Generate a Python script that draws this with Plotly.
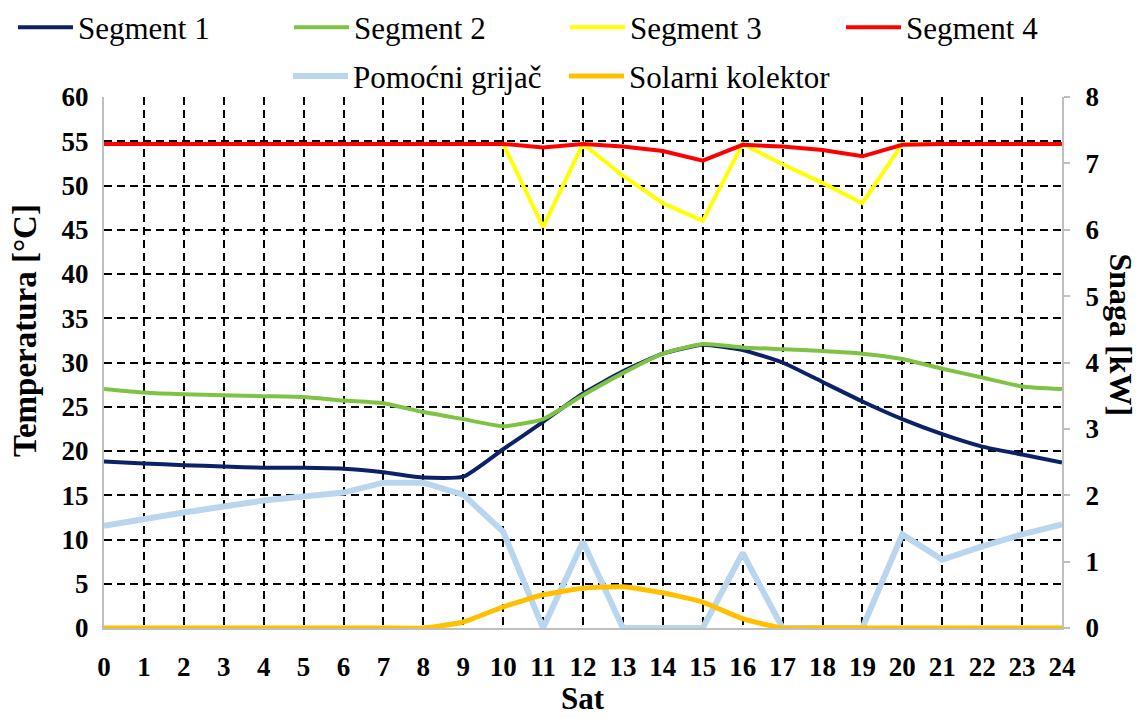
import plotly.graph_objects as go

hours = list(range(25))
x_tick_labels = [str(h) for h in hours]
series_names = ["Segment 1", "Segment 2", "Segment 3", "Segment 4",
                "Pomoćni grijač", "Solarni kolektor"]

seg1 = [18.8, 18.6, 18.4, 18.25, 18.1, 18.1, 18.0, 17.6, 17.0, 17.1, 20.2, 23.3, 26.5,
        29.0, 31.0, 32.0, 31.4, 30.0, 27.8, 25.6, 23.6, 21.9, 20.5, 19.6, 18.7]
seg2 = [27.0, 26.6, 26.4, 26.3, 26.2, 26.1, 25.7, 25.4, 24.4, 23.6, 22.8, 23.6, 26.3,
        28.8, 31.0, 32.1, 31.7, 31.5, 31.3, 31.0, 30.4, 29.3, 28.3, 27.3, 27.0]
seg3 = [54.7, 54.7, 54.7, 54.7, 54.7, 54.7, 54.7, 54.7, 54.7, 54.7, 54.7, 45.3, 54.7,
        51.1, 48.0, 46.0, 54.7, 52.4, 50.3, 48.0, 54.7, 54.7, 54.7, 54.7, 54.7]
seg4 = [54.7, 54.7, 54.7, 54.7, 54.7, 54.7, 54.7, 54.7, 54.7, 54.7, 54.7, 54.3, 54.7,
        54.4, 53.9, 52.8, 54.6, 54.4, 54.0, 53.3, 54.6, 54.7, 54.7, 54.7, 54.7]
heater = [1.54, 1.65, 1.74, 1.83, 1.92, 1.98, 2.04, 2.19, 2.19, 2.01, 1.45, 0.0, 1.30,
          0.0, 0.0, 0.0, 1.13, 0.0, 0.0, 0.0, 1.41, 1.03, 1.23, 1.41, 1.56]
solar = [0.0, 0.0, 0.0, 0.0, 0.0, 0.0, 0.0, 0.0, 0.0, 0.09, 0.32, 0.5, 0.6,
         0.62, 0.53, 0.39, 0.14, 0.0, 0.0, 0.0, 0.0, 0.0, 0.0, 0.0, 0.0]

FONT = "Liberation Serif"

fig = go.Figure()
fig.add_trace(go.Scatter(x=hours, y=seg1, name=series_names[0], mode="lines",
                         line=dict(color="#0c2266", width=4, shape="spline", smoothing=0.5),
                         legend="legend"))
fig.add_trace(go.Scatter(x=hours, y=seg2, name=series_names[1], mode="lines",
                         line=dict(color="#80c243", width=4, shape="spline", smoothing=0.5),
                         legend="legend"))
fig.add_trace(go.Scatter(x=hours, y=seg3, name=series_names[2], mode="lines",
                         line=dict(color="#ffff00", width=4),
                         legend="legend3"))
fig.add_trace(go.Scatter(x=hours, y=seg4, name=series_names[3], mode="lines",
                         line=dict(color="#ff0000", width=4),
                         legend="legend3"))
fig.add_trace(go.Scatter(x=hours, y=heater, name=series_names[4], mode="lines",
                         line=dict(color="#bad6ef", width=6), yaxis="y2",
                         legend="legend2"))
fig.add_trace(go.Scatter(x=hours, y=solar, name=series_names[5], mode="lines",
                         line=dict(color="#ffc000", width=5, shape="spline", smoothing=0.5),
                         yaxis="y2", legend="legend2"))


def legend_cfg(x, y):
    return dict(orientation="h",
                font=dict(family=FONT, size=31, color="#000000"),
                bgcolor="rgba(0,0,0,0)", itemwidth=55, entrywidth=206,
                entrywidthmode="pixels", tracegroupgap=0, itemclick=False,
                xanchor="left", yanchor="middle", x=x, y=y)


fig.update_layout(
    width=1146, height=718,
    margin=dict(l=96, r=92, t=89, b=98, autoexpand=False),
    paper_bgcolor="white", plot_bgcolor="white",
    font=dict(family=FONT, color="#000000"),
    showlegend=True,
    legend=legend_cfg(-0.095, 1.1307),
    legend3=legend_cfg(0.4812, 1.1307),
    legend2=legend_cfg(0.1921, 1.039),
    xaxis=dict(range=[0, 24], tickmode="array", tickvals=hours, ticktext=x_tick_labels,
               showgrid=True, gridcolor="#000000", gridwidth=2, griddash="8px,5px",
               showline=True, linecolor="#bfbfbf", linewidth=2, ticks="",
               zeroline=False,
               tickfont=dict(family=FONT, size=27, color="#000000", weight="bold"),
               ticklabelstandoff=14),
    yaxis=dict(range=[0, 60], dtick=5, tick0=0,
               showgrid=True, gridcolor="#000000", gridwidth=2, griddash="8px,5px",
               showline=True, linecolor="#bfbfbf", linewidth=2, ticks="",
               zeroline=False,
               tickfont=dict(family=FONT, size=27, color="#000000", weight="bold"),
               ticklabelstandoff=8),
    yaxis2=dict(range=[0, 8], dtick=1, tick0=0, overlaying="y", side="right",
                showgrid=False, showline=True, linecolor="#bfbfbf", linewidth=2,
                ticks="outside", ticklen=6, tickcolor="#bfbfbf", tickwidth=1.5,
                zeroline=False,
                tickfont=dict(family=FONT, size=27, color="#000000", weight="bold"),
                ticklabelstandoff=10),
    annotations=[
        dict(text="Temperatura [°C]", xref="paper", yref="paper", x=-0.0825, y=0.561,
             xanchor="center", yanchor="middle", showarrow=False, textangle=-90,
             font=dict(family=FONT, size=33, color="#000000", weight="bold")),
        dict(text="Snaga [kW]", xref="paper", yref="paper", x=1.062, y=0.552,
             xanchor="center", yanchor="middle", showarrow=False, textangle=90,
             font=dict(family=FONT, size=32, color="#000000", weight="bold")),
        dict(text="Sat", xref="paper", yref="paper", x=0.5, y=-0.132,
             xanchor="center", yanchor="middle", showarrow=False,
             font=dict(family=FONT, size=31, color="#000000", weight="bold")),
    ],
)

fig.write_html("out.html")
